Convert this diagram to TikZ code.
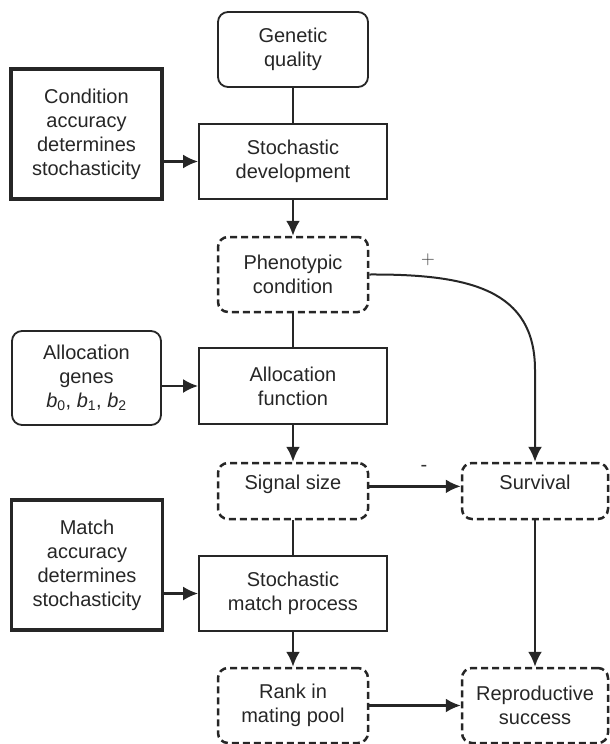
\documentclass[tikz,border=0pt]{standalone}
\usepackage{fontspec}
\setmainfont{Liberation Sans}
\newfontfamily\lmfont{Latin Modern Roman}
\usetikzlibrary{arrows.meta}
\tikzset{
  base/.style={align=center, font=\fontsize{20}{24}\selectfont, inner sep=2pt, draw=black!85, text=black!85},
  plainbox/.style={base, line width=1.8pt},
  roundbox/.style={base, line width=1.8pt, rounded corners=10pt},
  thickbox/.style={base, line width=3.8pt},
  dashbox/.style={base, line width=2.5pt, rounded corners=10pt, dash pattern=on 7pt off 4pt},
  arr/.style={line width=2.4pt, draw=black!85, -{Latex[length=15pt,width=14pt]}},
  ln/.style={line width=2.4pt, draw=black!85},
  sign/.style={text=black!80, inner sep=0pt}
}
\begin{document}
\begin{tikzpicture}[x=1pt, y=-1pt]
\useasboundingbox (0,0) rectangle (610,744);
\node[roundbox, minimum width=150pt, minimum height=75pt] (gq) at (293,49.5) {Genetic\\quality};
\node[thickbox, minimum width=151pt, minimum height=130pt] (cond) at (86.5,134) {Condition\\accuracy\\determines\\stochasticity};
\node[plainbox, minimum width=188pt, minimum height=75pt] (sd) at (293,161.5) {Stochastic\\development};
\node[dashbox, minimum width=150pt, minimum height=75pt] (pc) at (293,274.5) {Phenotypic\\condition};
\node[roundbox, minimum width=149pt, minimum height=94pt] (ag) at (86.5,378) {Allocation\\genes\\\textit{b}\textsubscript{0}, \textit{b}\textsubscript{1}, \textit{b}\textsubscript{2}};
\node[plainbox, minimum width=188pt, minimum height=76pt] (af) at (293,386) {Allocation\\function};
\node[dashbox, minimum width=150pt, minimum height=56pt, text height=15pt, text depth=19pt] (ss) at (293,491) {Signal size};
\node[dashbox, minimum width=146pt, minimum height=56pt, text height=15pt, text depth=19pt] (sv) at (535,491) {Survival};
\node[thickbox, minimum width=151pt, minimum height=130pt] (ma) at (87,565) {Match\\accuracy\\determines\\stochasticity};
\node[plainbox, minimum width=188pt, minimum height=75pt] (sm) at (293,593.5) {Stochastic\\match process};
\node[dashbox, minimum width=150pt, minimum height=75pt] (rk) at (293,705.5) {Rank in\\mating pool};
\node[dashbox, minimum width=146pt, minimum height=75pt] (rs) at (535,705.5) {Reproductive\\success};
\node[sign, font=\lmfont\fontsize{19}{20}\selectfont] (plus) at (428,260) {+};
\node[sign, font=\fontsize{20}{22}\selectfont] (minus) at (424,468) {-};
% connectors
\draw[ln] (gq) -- (sd);
\draw[arr] (cond.east |- sd) -- (sd);
\draw[arr] (sd) -- (pc);
\draw[ln] (pc) -- (af);
\draw[arr] (ag.east |- af) -- (af);
\draw[arr] (af) -- (ss);
\draw[ln] (ss) -- (sm);
\draw[arr] (ma.east |- sm) -- (sm);
\draw[arr] (sm) -- (rk);
\draw[arr] (ss.mid east) -- (sv.mid west);
\draw[arr] (sv) -- (rs);
\draw[arr] (rk) -- (rs);
\draw[arr, line width=2pt] (pc.east) .. controls (470,274) and (535,290) .. (535,370) -- (sv.north);
\end{tikzpicture}
\end{document}
